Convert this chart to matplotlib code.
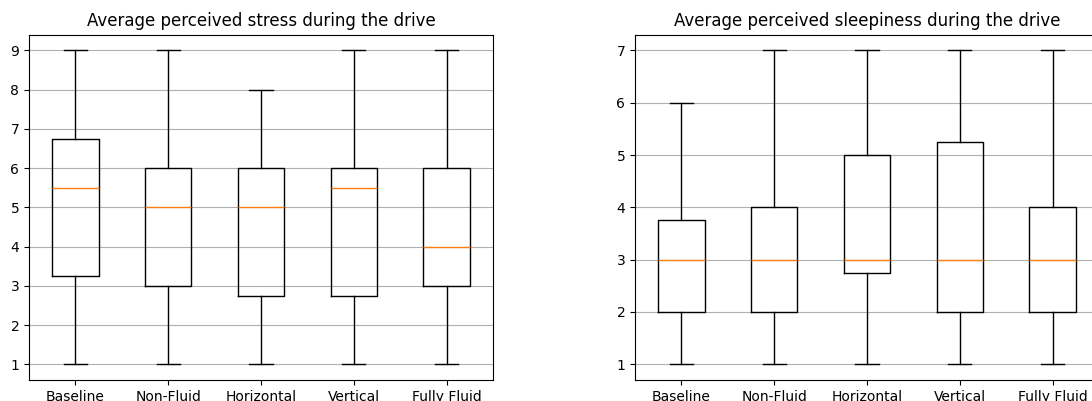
import matplotlib
matplotlib.use("Agg")
import matplotlib.pyplot as plt

conditions = ["Baseline", "Non-Fluid", "Horizontal", "Vertical", "Fully Fluid"]

# Five-number summaries per condition: whisker low, Q1, median, Q3, whisker high
stress_whislo = [1, 1, 1, 1, 1]
stress_q1 = [3.25, 3, 2.75, 2.75, 3]
stress_med = [5.5, 5, 5, 5.5, 4]
stress_q3 = [6.75, 6, 6, 6, 6]
stress_whishi = [9, 9, 8, 9, 9]

sleep_whislo = [1, 1, 1, 1, 1]
sleep_q1 = [2, 2, 2.75, 2, 2]
sleep_med = [3, 3, 3, 3, 3]
sleep_q3 = [3.75, 4, 5, 5.25, 4]
sleep_whishi = [6, 7, 7, 7, 7]


def summaries(lo, q1, med, q3, hi):
    return [
        dict(label=c, whislo=a, q1=b, med=m, q3=d, whishi=e, fliers=[])
        for c, a, b, m, d, e in zip(conditions, lo, q1, med, q3, hi)
    ]


fig = plt.figure(figsize=(10.92, 4.01), dpi=100)
W, H = 1092, 401
bottom = (H - 380) / H
height = 345.3 / H
width = 464 / W

ax1 = fig.add_axes([29 / W, bottom, width, height])
ax2 = fig.add_axes([635 / W, bottom, width, height])

panels = [
    (ax1, summaries(stress_whislo, stress_q1, stress_med, stress_q3, stress_whishi),
     "Average perceived stress during the drive"),
    (ax2, summaries(sleep_whislo, sleep_q1, sleep_med, sleep_q3, sleep_whishi),
     "Average perceived sleepiness during the drive"),
]

for ax, stats, title in panels:
    ax.bxp(stats, widths=0.5)
    ax.set_title(title)
    ax.yaxis.grid(True)

ax1.set_ylim(0.6, 9.4)
ax2.set_ylim(0.7, 7.3)

fig.savefig("out.png", dpi=100)
